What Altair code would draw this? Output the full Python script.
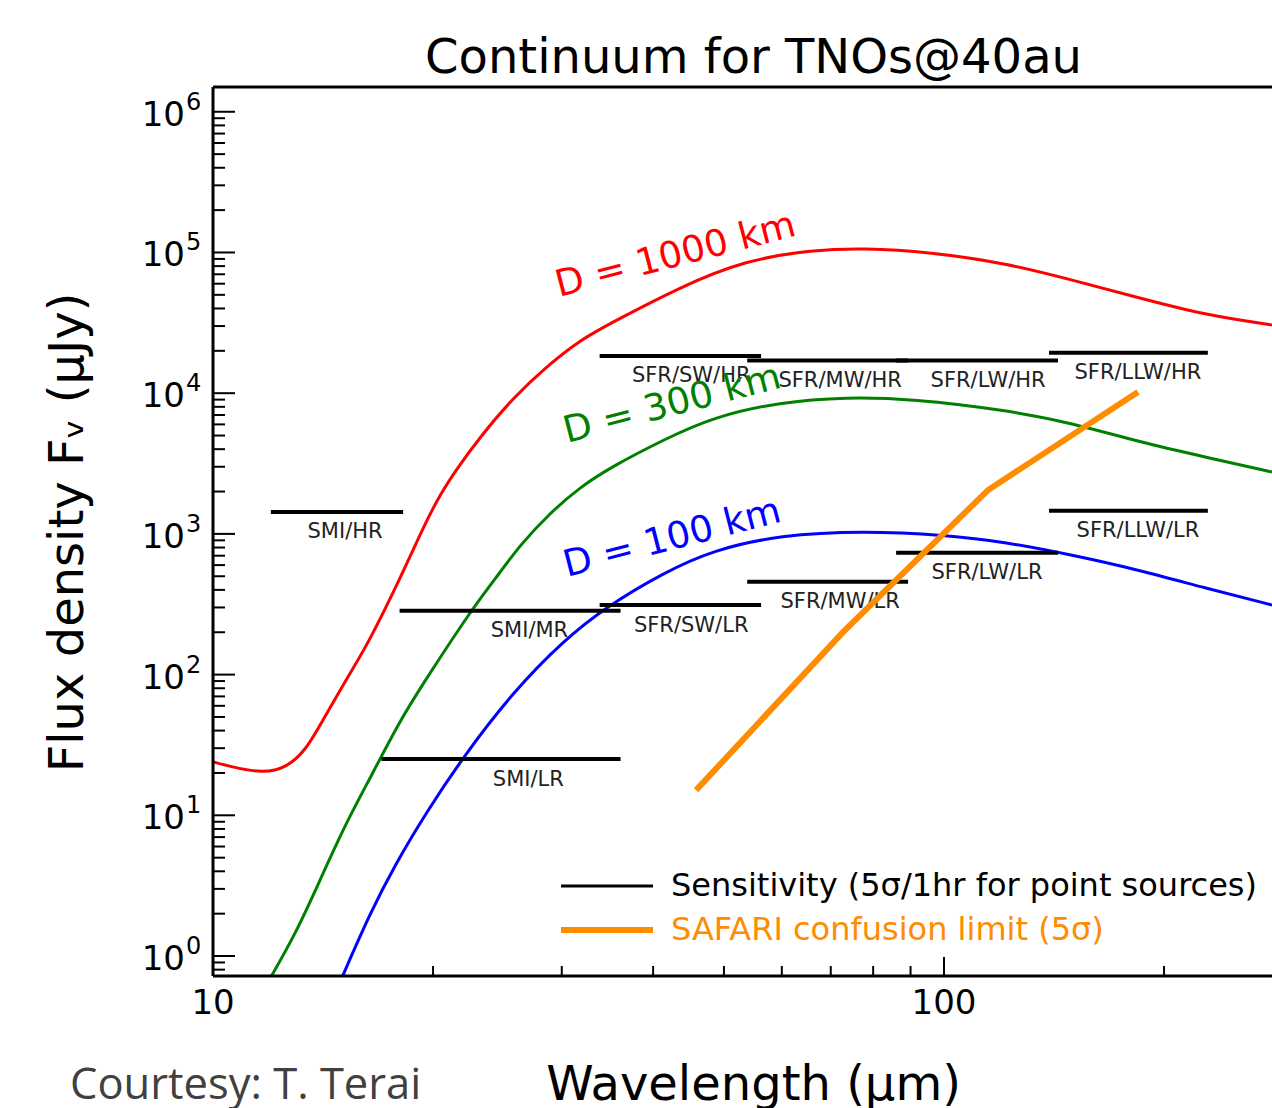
import altair as alt
import pandas as pd

# ---------------- data ----------------
# thermal continuum curves: wavelength (um) / flux density (uJy)
red_wl = [10.0, 10.55, 11.70, 12.59, 13.41, 14.14, 15.20, 16.19, 17.25, 18.03, 18.78, 19.56, 20.44,
          21.50, 23.19, 25.73, 28.55, 31.78, 35.26, 43.55, 53.59, 66.20, 77.49, 95.68, 121.2,
          149.7, 184.8, 227.5, 281.0]
red_fx = [24.0, 22.2, 19.9, 21.7, 29.1, 47.6, 91.5, 157, 302, 486, 768, 1215, 1890,
          2846, 4883, 9245, 15360, 23880, 32060, 56860, 88450, 104200, 107700, 100800, 84230,
          63760, 47500, 35950, 30520]

green_wl = [11.89, 12.99, 14.01, 15.20, 16.55, 18.03, 19.81, 22.47, 24.38, 26.30, 28.91, 31.78,
            35.26, 41.27, 48.31, 59.66, 73.42, 90.70, 121.2, 149.7, 184.8, 227.5, 281.0]
green_fx = [0.653, 1.457, 3.47, 8.82, 20.0, 47.6, 102.7, 278.6, 486, 834, 1408, 2154,
            3038, 4650, 6773, 8660, 9397, 9096, 7597, 6141, 4499, 3521, 2754]

blue_wl = [14.92, 16.40, 17.80, 19.56, 21.98, 25.73, 30.11, 34.48, 41.27, 48.31, 59.66, 77.49,
           100.6, 121.2, 149.7, 184.8, 227.5, 281.0]
blue_fx = [0.653, 2.02, 4.58, 10.38, 25.97, 75.2, 173.3, 302.4, 527.5, 768.4, 982, 1049,
           982, 876, 707.9, 553.9, 412.6, 312.4]

# SAFARI confusion limit
conf_wl = [45.8, 72.8, 114.9, 184.2]
conf_fx = [15.1, 201, 2051, 10190]

# sensitivity bands (5 sigma / 1 hr)
band_names = ["SMI/HR", "SMI/MR", "SMI/LR", "SFR/SW/HR", "SFR/MW/HR", "SFR/LW/HR", "SFR/LLW/HR",
              "SFR/SW/LR", "SFR/MW/LR", "SFR/LW/LR", "SFR/LLW/LR"]
band_lo = [12.0, 18.0, 17.0, 33.8, 53.8, 86.0, 139.2, 33.8, 53.8, 86.0, 139.2]
band_hi = [18.2, 36.1, 36.1, 56.2, 89.3, 143.2, 229.6, 56.2, 89.3, 143.2, 229.6]
band_flux = [1431, 284, 25.1, 18380, 17080, 17080, 19400, 312, 457, 735, 1462]
band_label_wl = [15.16, 27.1, 27.0, 45.1, 72.1, 114.9, 184.2, 45.1, 72.1, 114.5, 184.2]

# curve annotations
curve_names = ["D = 1000 km", "D = 300 km", "D = 100 km"]
curve_colors = ["#ff0000", "#008000", "#0000ff"]
curve_label_wl = [29.74, 30.5, 30.5]
curve_label_fx = [48300, 4426, 494]
curve_label_angle = [345.5, 345.5, 345.5]

x_tick_values = [10, 100]
x_tick_labels = ["10", "100"]
y_tick_values = [1, 10, 100, 1000, 10000, 100000, 1000000]
y_tick_exponents = ["0", "1", "2", "3", "4", "5", "6"]

title_text = "Continuum for TNOs@40au"
x_title = "Wavelength (\u03bcm)"
y_title = "Flux density F\u1d65 (\u03bcJy)"
credit = "Courtesy: T. Terai"
legend_names = ["Sensitivity (5\u03c3/1hr for point sources)", "SAFARI confusion limit (5\u03c3)"]

# ---------------- build tables ----------------
curves = pd.concat([
    pd.DataFrame({"wl": red_wl, "fx": red_fx, "D": curve_names[0]}),
    pd.DataFrame({"wl": green_wl, "fx": green_fx, "D": curve_names[1]}),
    pd.DataFrame({"wl": blue_wl, "fx": blue_fx, "D": curve_names[2]}),
])
conf = pd.DataFrame({"wl": conf_wl, "fx": conf_fx})
bands = pd.DataFrame({"name": band_names, "lo": band_lo, "hi": band_hi,
                      "fx": band_flux, "lw": band_label_wl})
ytick_df = pd.DataFrame({"v": y_tick_values, "base": ["10"] * len(y_tick_values), "e": y_tick_exponents})

W, H = 1059, 889
XMIN, XMAX = 10.0, 281.0
YMIN, YMAX = 0.7211, 1.4997e6
FONT = "DejaVu Sans"

xs = alt.Scale(type="log", domain=[XMIN, XMAX], nice=False)
ys = alt.Scale(type="log", domain=[YMIN, YMAX], nice=False)

# tick positions (inward, matplotlib-like)
y_major = [v for v in y_tick_values if YMIN <= v <= YMAX]
y_minor = [m * 10.0 ** d for d in range(-1, 7) for m in range(2, 10) if YMIN <= m * 10.0 ** d <= YMAX]
x_major = [100]
x_minor = [v for v in [20, 30, 40, 50, 60, 70, 80, 90, 200, 300] if XMIN < v <= XMAX]


def X(field):
    return alt.X(field, type="quantitative", scale=xs, axis=None)


def Y(field):
    return alt.Y(field, type="quantitative", scale=ys, axis=None)


curve_layer = alt.Chart(curves).mark_line(strokeWidth=3, clip=True, interpolate="basis").encode(
    x=X("wl"), y=Y("fx"),
    color=alt.Color("D:N", scale=alt.Scale(domain=curve_names, range=curve_colors), legend=None),
)

band_layer = alt.Chart(bands).mark_rule(strokeWidth=4, color="black").encode(
    x=X("lo"), x2="hi:Q", y=Y("fx"))

band_text = alt.Chart(bands).mark_text(font=FONT, fontSize=21, color="#222222", dy=20.5,
                                       align="center", baseline="middle").encode(
    x=X("lw"), y=Y("fx"), text="name:N")

conf_layer = alt.Chart(conf).mark_line(strokeWidth=6, color="#ff8c00").encode(x=X("wl"), y=Y("fx"))

label_layers = []
for nm, col, lw, lf, ang in zip(curve_names, curve_colors, curve_label_wl, curve_label_fx, curve_label_angle):
    label_layers.append(
        alt.Chart(pd.DataFrame({"t": [nm], "wl": [lw], "fx": [lf]})).mark_text(
            font=FONT, fontSize=37, color=col, angle=ang, align="left", baseline="alphabetic").encode(
            x=X("wl"), y=Y("fx"), text="t:N"))

tick_style = dict(strokeWidth=2, color="black")
ymaj = alt.Chart(pd.DataFrame({"v": y_major})).mark_rule(**tick_style).encode(
    y=Y("v"), x=alt.value(0), x2=alt.value(22))
ymin = alt.Chart(pd.DataFrame({"v": y_minor})).mark_rule(**tick_style).encode(
    y=Y("v"), x=alt.value(0), x2=alt.value(12))
xmaj = alt.Chart(pd.DataFrame({"v": x_major})).mark_rule(**tick_style).encode(
    x=X("v"), y=alt.value(H), y2=alt.value(H - 19))
xmin = alt.Chart(pd.DataFrame({"v": x_minor})).mark_rule(**tick_style).encode(
    x=X("v"), y=alt.value(H), y2=alt.value(H - 10))

ylab_base = alt.Chart(ytick_df).mark_text(
    font=FONT, fontSize=34, color="black", align="right", baseline="middle", dy=4).encode(
    y=Y("v"), x=alt.value(-28), text="base:N")
ylab_exp = alt.Chart(ytick_df).mark_text(
    font=FONT, fontSize=24, color="black", align="left", baseline="middle", dy=-9).encode(
    y=Y("v"), x=alt.value(-27), text="e:N")
xlab = alt.Chart(pd.DataFrame({"v": x_tick_values, "t": x_tick_labels})).mark_text(
    font=FONT, fontSize=34, color="black", align="center", baseline="top").encode(
    x=X("v"), y=alt.value(H + 11), text="t:N")

one = pd.DataFrame({"a": [0]})
frame_style = dict(strokeWidth=3, color="black")
top_border = alt.Chart(one).mark_rule(**frame_style).encode(
    x=alt.value(0), x2=alt.value(W), y=alt.value(0))
left_border = alt.Chart(one).mark_rule(**frame_style).encode(
    x=alt.value(0), y=alt.value(0), y2=alt.value(H))
bottom_border = alt.Chart(one).mark_rule(**frame_style).encode(
    x=alt.value(0), x2=alt.value(W), y=alt.value(H))


def txt(s, x, y, size, color="black", font=FONT, align="center", baseline="alphabetic", angle=0):
    kw = dict(font=font, fontSize=size, color=color, align=align, baseline=baseline)
    if angle:
        kw["angle"] = angle
    return alt.Chart(one).mark_text(**kw).encode(x=alt.value(x), y=alt.value(y), text=alt.value(s))


title = txt(title_text, 540.5, -14, 48)
xtitle = txt(x_title, 540.5, H + 124, 48)
ytitle = txt(y_title, -130, 445.5, 48, angle=270)
courtesy = txt(credit, -143, 1012, 43.5, color="#404040", font="Open Sans", align="left")

leg_sens_line = alt.Chart(one).mark_rule(strokeWidth=3, color="black").encode(
    x=alt.value(348), x2=alt.value(440), y=alt.value(799))
leg_conf_line = alt.Chart(one).mark_rule(strokeWidth=6, color="#ff8c00").encode(
    x=alt.value(348), x2=alt.value(440), y=alt.value(843))
leg_sens_text = txt(legend_names[0], 458, 799, 32, align="left", baseline="middle")
leg_conf_text = txt(legend_names[1], 458, 843, 32, color="#ff8c00", align="left", baseline="middle")

chart = alt.layer(
    curve_layer, band_layer, band_text, conf_layer, *label_layers,
    ymaj, ymin, xmaj, xmin, ylab_base, ylab_exp, xlab, top_border, left_border, bottom_border,
    title, xtitle, ytitle, courtesy,
    leg_sens_line, leg_conf_line, leg_sens_text, leg_conf_text,
).properties(
    width=W, height=H,
    autosize=alt.AutoSizeParams(type="none"),
    padding={"left": 213, "top": 87, "right": 0, "bottom": 132},
).configure_view(stroke=None).configure(background="white")

chart.save("out.html", embed_options={"renderer": "svg", "actions": False})
